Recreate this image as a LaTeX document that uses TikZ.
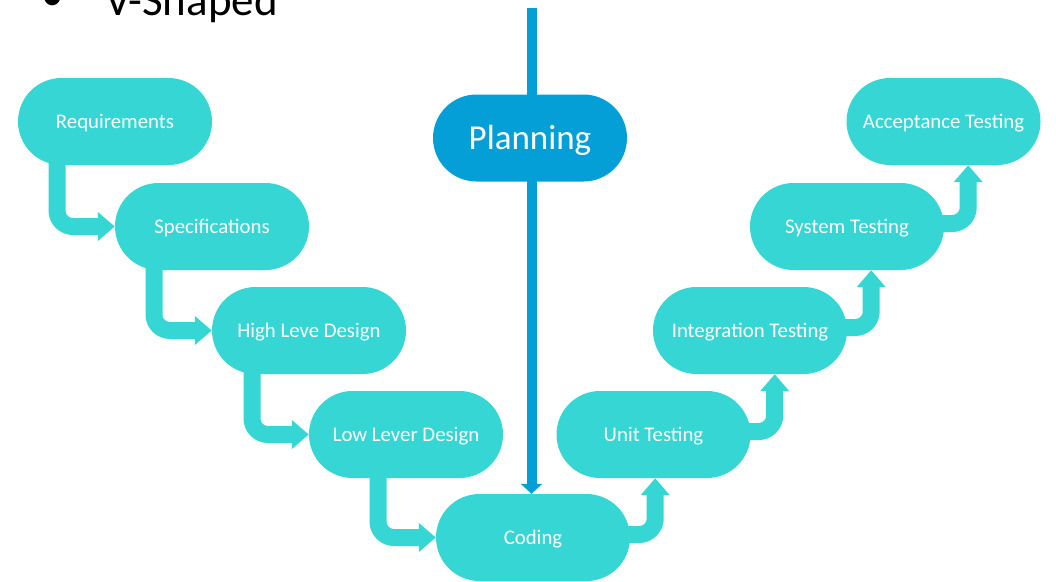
\documentclass[tikz,border=0pt]{standalone}
\usepackage{fontspec}
\setmainfont{Carlito}
\usetikzlibrary{arrows.meta,calc,backgrounds}
\definecolor{tealfill}{HTML}{35D6D3}
\definecolor{planblue}{HTML}{039FD6}
\begin{document}
\begin{tikzpicture}[x=1pt,y=-1pt,
  pill/.style={fill=tealfill, rounded corners=43.5pt, minimum width=194pt, minimum height=87pt,
    text=white, font=\fontsize{20.8}{25}\selectfont, inner sep=0pt,
    text height=13.4pt, text depth=0pt},
  bigpill/.style={pill, fill=planblue, font=\fontsize{35}{42}\selectfont,
    text height=22.5pt, text depth=0pt},
  elbow/.style={draw=tealfill, line width=17pt, rounded corners=16pt,
    -{Triangle[width=28pt,length=17pt]}},
  vline/.style={draw=planblue, line width=10pt, -{Triangle[width=21pt,length=10pt]}},
  titletext/.style={anchor=base west, inner sep=0pt, font=\fontsize{45}{54}\selectfont}]
\useasboundingbox (0,0) rectangle (1056,581);
\clip (0,0) rectangle (1056,581);

\node[titletext] (bul) at (41,10) {•};
\node[titletext] (title) at (105,15) {V-Shaped};

\node[pill] (req) at (115,121.5) {Requirements};
\node[pill] (spec) at (212,226.5) {Specifications};
\node[pill] (hld) at (309,330.5) {High Leve Design};
\node[pill] (lld) at (406,434.5) {Low Lever Design};
\node[pill] (cod) at (533,537.5) {Coding};
\node[pill] (unit) at (653.5,434.5) {Unit Testing};
\node[pill] (int) at (750,330.5) {Integration Testing};
\node[pill] (sys) at (847,226.5) {System Testing};
\node[pill] (acc) at (943.5,121.5) {Acceptance Testing};
\node[bigpill] (plan) at (530,138) {Planning};

\coordinate (top) at (531.5,8);
\coordinate (k1) at ($(cod.east)+(25,0)$);
\coordinate (k2) at ($(unit.east)+(24,0)$);
\coordinate (k3) at ($(int.east)+(24,0)$);
\coordinate (k4) at ($(sys.east)+(24,0)$);

\begin{scope}[on background layer]
\fill[white] (0,0) rectangle (1056,581);
\draw[vline] (top) -- (top |- cod.north);
\draw[elbow] ([xshift=-58pt]req.center) |- (spec.west);
\draw[elbow] ([xshift=-58pt]spec.center) |- (hld.west);
\draw[elbow] ([xshift=-57pt]hld.center) |- (lld.west);
\draw[elbow] ([xshift=-28pt]lld.center) |- (cod.west);
\draw[elbow] ([yshift=3pt]cod.center) -| (k1 |- unit.south);
\draw[elbow] ([yshift=3pt]unit.center) -| (k2 |- int.south);
\draw[elbow] ([yshift=3pt]int.center) -| (k3 |- sys.south);
\draw[elbow] ([yshift=3pt]sys.center) -| (k4 |- acc.south);
\end{scope}
\end{tikzpicture}
\end{document}
